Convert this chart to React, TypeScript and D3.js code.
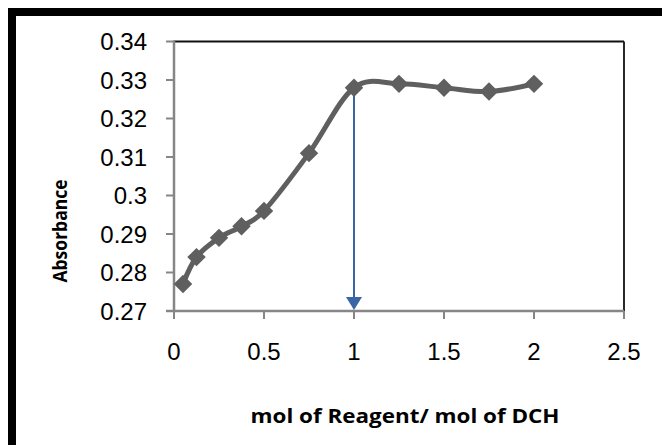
import React from "react";
import * as d3 from "d3";

const width = 662;
const height = 445;
const margin = { top: 41.5, right: 38, bottom: 134, left: 174 };

const ratio = [0.05, 0.125, 0.25, 0.375, 0.5, 0.75, 1, 1.25, 1.5, 1.75, 2];
const absorbance = [0.277, 0.284, 0.289, 0.292, 0.296, 0.311, 0.328, 0.329, 0.328, 0.327, 0.329];
const xTicks = [0, 0.5, 1, 1.5, 2, 2.5];
const yTicks = [0.27, 0.28, 0.29, 0.3, 0.31, 0.32, 0.33, 0.34];
const arrowX = 1;
const arrowY = 0.328;

export default function App() {
  const innerW = width - margin.left - margin.right;
  const innerH = height - margin.top - margin.bottom;
  const x = d3.scaleLinear().domain([0, 2.5]).range([margin.left, margin.left + innerW]);
  const y = d3.scaleLinear().domain([0.27, 0.34]).range([margin.top + innerH, margin.top]);

  const pts: [number, number][] = ratio.map((r, i) => [x(r), y(absorbance[i])]);
  const line = d3.line().curve(d3.curveCardinal.tension(0))(pts) || "";
  const diamond = d3.symbol().type(d3.symbolSquare).size(170)() || "";

  const font = "'Liberation Sans', Arial, sans-serif";
  const x0 = x(0), x1 = x(2.5), yb = y(0.27), yt = y(0.34);
  const ax = x(arrowX);

  return (
    <svg width={width} height={height} style={{ position: "absolute", left: 0, top: 0 }}>
      <rect x={0} y={0} width={width} height={height} fill="#fff" />
      {/* outer frame (cropped: only top and left visible) */}
      <line x1={8} y1={12} x2={width} y2={12} stroke="#000" strokeWidth={8} />
      <line x1={12} y1={8} x2={12} y2={height} stroke="#000" strokeWidth={8} />

      {/* plot frame top/right */}
      <line x1={x0} y1={yt} x2={x1} y2={yt} stroke="#111" strokeWidth={1.8} />
      <line x1={x1} y1={yt} x2={x1} y2={yb} stroke="#111" strokeWidth={1.8} />

      {/* y axis */}
      <line x1={x0} y1={yt - 1} x2={x0} y2={yb + 1} stroke="#868686" strokeWidth={2.5} />
      {yTicks.map(t => (
        <g key={t}>
          <line x1={x0 - 8} y1={y(t)} x2={x0} y2={y(t)} stroke="#868686" strokeWidth={2} />
          <text x={147} y={y(t)} dy="0.36em" textAnchor="end" fontFamily={font} fontSize={24} fill="#000">
            {String(t)}
          </text>
        </g>
      ))}

      {/* x axis */}
      <line x1={x0 - 8} y1={yb} x2={x1} y2={yb} stroke="#868686" strokeWidth={2.5} />
      {xTicks.map(t => (
        <g key={t}>
          <line x1={x(t)} y1={yb} x2={x(t)} y2={yb + 8} stroke="#868686" strokeWidth={2} />
          <text x={x(t)} y={360} textAnchor="middle" fontFamily={font} fontSize={24} fill="#000">
            {String(t)}
          </text>
        </g>
      ))}

      {/* arrow */}
      <line x1={ax} y1={y(arrowY)} x2={ax} y2={yb - 12} stroke="#3a66a7" strokeWidth={2} />
      <path d={`M${ax - 8},${yb - 14} L${ax + 8},${yb - 14} L${ax},${yb - 1} Z`} fill="#3a66a7" />

      {/* series */}
      <path d={line} fill="none" stroke="#5f5f5f" strokeWidth={5} strokeLinejoin="round" />
      {pts.map((p, i) => (
        <path key={i} d={diamond} transform={`translate(${p[0]},${p[1]}) rotate(45)`} fill="#5f5f5f" />
      ))}

      {/* axis titles */}
      <text x={405} y={423} textAnchor="middle" fontFamily="'Open Sans', sans-serif" fontWeight="bold"
        fontSize={20} textLength={309} lengthAdjust="spacingAndGlyphs" fill="#000">
        mol of Reagent/ mol of DCH
      </text>
      <text transform={`translate(67,231) rotate(-90)`} textAnchor="middle" fontFamily="'Open Sans', sans-serif"
        fontWeight="bold" fontSize={20} textLength={103} lengthAdjust="spacingAndGlyphs" fill="#000">
        Absorbance
      </text>
    </svg>
  );
}
